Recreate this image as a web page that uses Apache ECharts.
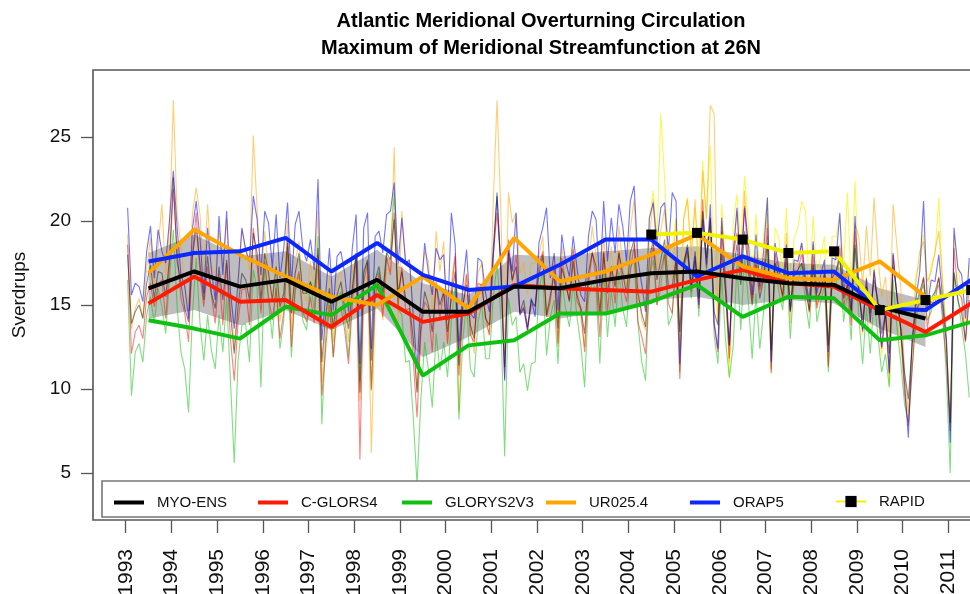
<!DOCTYPE html>
<html><head><meta charset="utf-8">
<script src="https://cdn.jsdelivr.net/npm/echarts/dist/echarts.min.js"></script>
<style>html,body{margin:0;padding:0;background:#fff}#c{width:970px;height:594px}</style>
</head><body><div id="c"></div>
<script>
// ---------------- DATA ----------------
const xTickYears = [1993,1994,1995,1996,1997,1998,1999,2000,2001,2002,2003,2004,2005,2006,2007,2008,2009,2010,2011];
const yTickValues = [5,10,15,20,25];
const seriesNames = ['MYO-ENS','C-GLORS4','GLORYS2V3','UR025.4','ORAP5','RAPID'];

// monthly values, Jan 1993 onward
const myoMonthly = [
18.0,13.9,14.6,15.0,14.2,16.3,17.4,15.4,17.0,16.9,15.5,17.8,
22.6,17.6,16.3,14.8,14.0,17.9,19.6,17.5,15.3,17.9,15.7,14.8,
17.3,15.3,17.7,14.5,12.1,14.9,16.9,16.5,15.3,19.3,18.1,15.3,
18.1,16.9,15.3,17.3,14.9,15.7,18.9,14.5,16.9,18.1,15.7,15.7,
16.4,15.6,18.4,11.6,14.4,16.0,13.6,15.6,16.4,14.8,13.6,16.0,
18.1,9.8,16.9,17.7,11.7,16.5,17.3,15.7,18.1,17.7,20.1,15.7,
17.0,15.4,15.0,13.0,9.8,13.8,15.8,15.0,13.4,16.2,15.0,15.8,
13.4,15.4,17.0,11.4,15.0,16.2,13.8,13.0,15.8,16.2,14.2,13.8,
17.7,21.7,16.9,11.3,18.1,16.5,17.3,14.5,15.3,13.7,15.3,14.9,
16.8,18.0,14.4,15.6,16.8,13.6,17.2,16.4,15.2,17.6,15.6,14.8,
13.3,16.9,18.1,17.3,14.5,18.1,15.7,17.3,16.1,18.1,16.9,15.7,
18.1,18.9,15.7,14.5,13.7,17.7,18.9,16.5,17.7,18.9,16.1,16.1,
17.8,13.4,17.4,18.6,16.2,18.2,15.4,20.6,17.8,20.2,14.6,13.8,
18.2,15.8,12.6,17.0,18.6,16.2,19.4,17.0,15.0,17.4,15.4,16.6,
18.7,12.3,17.5,16.7,15.5,17.9,14.7,16.7,17.1,17.5,16.3,14.7,
17.4,15.4,15.8,17.0,12.6,16.6,17.0,17.8,15.4,16.2,14.6,18.6,
15.7,14.1,16.1,14.5,16.5,15.3,13.3,14.5,12.1,17.3,15.7,13.7,
11.0,9.4,12.6,15.0,15.8,16.6,14.6,15.4,15.8,16.6,15.0,12.6,
8.0,16.9,15.3,14.5,12.9,15.3];
const cglorsMonthly = [
18.6,12.1,13.4,13.8,13.0,15.5,16.3,14.9,16.2,16.5,14.2,17.4,
21.9,18.2,15.4,14.5,12.8,17.9,20.5,16.8,14.9,17.3,15.6,13.9,
16.9,13.8,17.5,13.0,10.5,14.0,15.9,16.0,13.8,19.6,17.4,14.5,
17.6,15.5,14.1,16.0,13.0,14.6,18.7,12.5,16.1,17.0,14.6,14.0,
15.5,13.9,18.0,9.6,12.4,15.0,11.9,14.5,14.9,13.5,11.5,15.0,
17.9,5.8,16.4,17.5,10.0,15.3,16.9,14.3,17.9,16.8,20.5,14.9,
17.3,14.7,14.8,11.7,8.3,13.3,15.2,14.8,12.2,16.4,14.2,15.8,
12.7,15.8,17.9,10.8,14.7,16.8,13.2,12.8,16.3,16.2,14.3,13.2,
18.0,20.5,17.5,10.6,18.9,16.4,18.0,14.5,14.9,13.5,15.0,15.0,
17.3,18.2,14.3,15.2,17.4,12.7,17.8,16.2,15.3,18.3,15.2,14.8,
12.2,16.1,18.2,16.6,13.1,18.2,14.6,17.2,15.1,18.2,16.1,15.2,
17.0,18.6,14.0,13.1,12.1,16.5,18.6,15.0,17.1,18.0,15.1,14.5,
17.8,10.6,17.3,18.2,15.8,17.7,14.8,21.3,17.2,20.2,13.8,12.2,
19.4,15.8,11.8,17.9,19.3,16.9,20.9,17.3,15.4,17.8,15.9,16.8,
19.6,11.0,18.1,16.5,15.6,18.0,14.6,17.1,17.0,18.1,16.0,14.6,
17.9,14.8,15.9,16.8,11.3,16.9,16.8,18.4,14.8,16.4,13.8,19.4,
16.0,13.4,16.5,13.9,17.0,14.9,12.4,14.5,10.9,18.0,15.4,13.5,
9.7,7.8,11.1,14.7,15.1,16.7,13.6,15.2,15.1,16.7,14.1,11.7,
7.5,18.4,15.8,15.4,12.8,16.4];
const glorysMonthly = [
16.5,9.6,12.2,12.7,11.6,14.4,15.5,13.9,16.0,14.9,13.3,16.6,
19.5,14.9,12.2,11.2,8.6,14.4,17.8,13.9,11.7,14.4,12.3,11.2,
14.4,12.2,15.5,10.5,5.6,11.7,13.8,13.9,11.6,17.1,16.0,10.1,
17.4,15.2,13.0,16.3,12.4,14.1,18.5,11.9,15.8,16.8,14.1,13.5,
16.4,14.7,19.1,7.9,13.0,15.8,11.9,15.3,15.8,14.2,11.9,15.8,
18.1,10.4,17.1,17.6,9.9,16.5,17.0,15.4,18.1,18.2,21.7,14.8,
14.4,11.6,11.7,8.3,4.3,9.4,12.8,11.1,8.9,13.3,11.1,12.8,
10.7,14.0,16.2,8.2,12.9,15.1,11.2,10.7,14.0,15.1,11.8,11.8,
15.4,17.5,14.3,6.0,15.4,13.8,14.3,11.0,11.5,9.9,11.5,11.6,
15.9,17.0,12.0,14.3,15.3,11.5,16.5,14.8,13.7,16.4,14.3,12.6,
10.1,15.4,16.4,15.9,11.5,17.0,13.1,15.9,13.7,17.0,14.8,13.7,
17.2,17.7,13.9,11.6,10.5,16.6,17.7,15.0,16.0,18.3,13.8,14.4,
17.6,11.0,17.1,18.1,15.4,17.6,14.3,20.5,17.0,20.0,13.2,11.5,
16.8,12.9,10.7,12.5,17.4,13.5,18.0,15.2,11.8,15.7,12.4,14.6,
19.1,11.2,17.5,15.8,14.7,17.4,13.0,16.4,16.3,17.5,15.2,13.6,
17.4,14.0,15.2,16.2,11.0,16.3,16.2,17.9,14.0,15.7,12.9,18.4,
14.3,11.5,14.9,12.1,15.4,13.2,11.0,12.1,10.1,16.5,13.7,11.6,
9.1,8.0,11.3,14.0,15.7,16.2,14.1,14.6,15.7,16.2,14.6,10.7,
5.0,17.0,15.4,13.7,12.1,9.5];
const urMonthly = [
19.2,13.6,14.8,15.4,14.2,17.2,19.0,16.0,18.4,21.0,16.6,19.6,
27.2,20.4,18.6,16.2,15.0,20.4,22.0,20.4,16.8,21.0,17.4,16.8,
19.5,17.1,20.1,15.9,12.3,15.9,19.5,18.3,17.1,25.1,20.7,16.5,
19.4,17.0,15.2,17.6,14.0,15.8,20.0,13.4,17.6,18.8,15.8,15.2,
17.6,15.8,20.6,10.4,14.0,17.0,12.8,16.4,17.0,15.2,12.8,17.0,
17.7,9.3,15.3,17.1,6.2,15.3,15.9,14.1,17.1,17.1,24.4,13.5,
20.6,17.6,17.6,14.0,9.8,15.8,18.2,17.6,14.6,19.4,17.0,18.8,
12.7,16.3,18.1,8.6,15.7,16.9,13.9,12.1,16.9,17.5,13.9,13.3,
21.1,27.2,20.5,12.1,21.7,19.9,20.5,16.9,17.5,15.7,17.5,17.5,
17.9,19.1,14.3,15.5,17.9,12.5,18.5,16.7,15.5,18.5,16.1,14.3,
12.5,17.3,19.7,17.9,14.3,19.1,16.1,18.5,16.1,19.7,17.3,16.1,
19.5,21.3,16.5,14.1,13.5,18.9,21.3,17.1,19.5,20.7,17.1,16.5,
20.1,12.8,20.1,21.3,17.7,21.3,16.5,23.0,20.1,26.9,26.4,14.0,
20.0,15.8,11.6,17.6,20.6,16.4,21.8,17.6,15.2,18.2,15.8,17.0,
20.5,10.9,18.1,17.5,15.1,19.3,13.9,17.5,17.5,18.7,16.3,14.5,
18.6,15.0,16.2,17.4,11.4,16.8,18.0,18.6,15.6,16.2,14.4,19.8,
19.1,16.1,19.7,16.7,21.4,17.9,15.5,16.7,13.1,21.0,18.5,16.1,
11.0,8.6,12.8,16.4,18.2,18.8,16.4,17.0,18.2,19.4,16.4,13.4];
const orapMonthly = [
20.8,15.6,16.3,16.1,15.2,18.2,19.7,16.6,19.5,18.2,17.5,20.1,
23.0,19.6,16.8,16.1,14.2,19.5,21.2,19.0,15.7,19.6,17.1,15.3,
20.3,16.8,20.6,15.8,13.6,16.4,19.6,18.3,17.6,21.5,20.1,16.8,
20.6,19.9,17.2,20.4,16.6,18.4,21.1,16.2,19.8,20.6,18.4,17.6,
18.9,17.1,22.5,12.9,15.6,18.4,14.7,17.9,18.2,16.9,14.6,18.4,
20.4,11.5,19.6,20.5,12.4,19.1,19.4,18.1,20.4,20.6,22.3,17.4,
20.2,17.5,17.7,14.4,11.2,15.5,18.7,16.9,15.6,18.4,17.7,18.0,
14.1,20.5,18.6,12.3,16.1,18.3,14.5,14.2,17.8,17.6,15.7,14.6,
18.4,21.5,17.4,10.5,18.3,17.0,20.5,14.4,14.8,13.5,15.4,14.3,
18.7,19.6,20.8,16.6,18.1,14.7,19.2,17.6,16.7,19.1,17.2,15.6,
15.2,19.1,20.6,20.1,16.1,21.2,17.6,20.2,18.1,21.0,19.7,17.6,
21.2,22.1,17.7,16.2,14.6,20.2,21.1,18.7,20.8,21.1,18.2,21.7,
21.2,11.5,17.5,18.4,16.0,17.9,15.0,20.1,17.4,21.0,14.0,12.4,
20.2,16.6,12.6,18.1,20.8,17.1,20.8,18.7,15.6,19.2,16.1,18.2,
21.4,11.6,18.7,17.1,16.2,18.6,14.6,17.7,17.6,18.7,16.6,15.2,
18.8,15.7,16.8,17.7,12.2,17.8,17.7,20.5,15.7,17.3,14.7,20.3,
16.1,13.5,16.6,14.0,17.1,15.0,12.5,14.6,11.0,18.1,15.5,13.6,
10.4,7.1,13.0,15.4,17.0,21.2,14.9,16.5,16.4,18.0,15.4,13.0,
6.8,19.6,17.2,16.8,14.2,17.8];
// RAPID monthly, April 2004 onward
const rapidMonthly = [
15.9,14.7,20.1,21.8,18.9,26.4,22.5,17.7,18.3,
20.2,12.5,20.2,21.4,18.4,20.8,17.2,23.6,20.2,24.5,16.0,14.2,
21.0,17.4,10.6,19.8,21.6,18.6,22.7,19.8,16.2,20.4,16.8,19.2,
21.4,12.4,19.6,19.0,16.6,20.8,15.4,19.0,19.6,21.2,20.6,16.0,
20.3,16.7,17.9,19.1,12.5,19.1,19.1,20.3,17.3,21.7,16.1,22.4,
16.2,13.2,16.8,13.8,17.4,15.0,12.0,14.4,10.2,18.0,15.6,12.6,
10.2,8.4,12.6,16.8,17.4,19.2,15.6,17.4,18.0,21.4,16.2,13.2,
8.0,19.2,17.4,15.6,13.8,17.4];

// annual means (mid-year), from 1993.5
const myoAnnual    = [16.0,17.0,16.1,16.5,15.2,16.5,14.6,14.6,16.1,16.0,16.5,16.9,17.0,16.6,16.3,16.2,14.9,14.2];
const cglorsAnnual = [15.1,16.7,15.2,15.3,13.7,15.6,14.0,14.5,16.2,16.0,15.9,15.8,16.5,17.1,16.3,16.1,14.7,13.4,15.1];
const glorysAnnual = [14.1,13.6,13.0,14.9,14.4,16.2,10.8,12.6,12.9,14.5,14.5,15.2,16.2,14.3,15.5,15.4,12.9,13.2,14.0];
const urAnnual     = [16.9,19.5,18.0,16.7,15.5,15.0,16.7,14.8,19.0,16.4,17.0,18.0,19.2,17.3,16.6,16.5,17.6,15.5];
const orapAnnual   = [17.6,18.1,18.2,19.0,17.0,18.7,16.8,15.9,16.1,17.4,18.9,18.9,16.7,17.9,16.9,17.0,14.8,14.7,16.5];
// RAPID annual from 2004.5
const rapidAnnual  = [19.2,19.3,18.9,18.1,18.2,14.7,15.3,15.9];
// ensemble spread band, from 1993.5
const bandLow  = [14.2,14.7,13.8,14.7,13.5,14.8,11.9,13.1,14.6,14.2,14.6,15.3,15.5,15.0,15.3,15.1,13.6,12.5];
const bandHigh = [18.1,19.2,17.9,18.2,16.7,18.3,16.3,15.6,18.0,17.9,18.2,18.4,18.5,18.0,17.5,17.4,16.0,15.3];

// ---------------- CHART ----------------
const FONT = '"Liberation Sans", Arial, Helvetica, sans-serif';
const toMonthly = (arr, y0, m0) => arr.map((v, i) => [y0 + (m0 + i + 0.5) / 12, v]);
const toAnnual = (arr, y0) => arr.map((v, i) => [y0 + i + 0.5, v]);

const thin = (name, data, color) => ({
  type: 'line', name, data, symbol: 'none', silent: true, z: 3,
  lineStyle: { color, width: 1.1 }, itemStyle: { color }
});
const thick = (name, data, color, extra) => Object.assign({
  type: 'line', name, data, symbol: 'none', silent: true, z: 5,
  lineStyle: { color, width: 4 }, itemStyle: { color }
}, extra || {});

const legendLefts = [114, 258, 402, 546, 690, 835];

const chart = echarts.init(document.getElementById('c'), null, { renderer: 'canvas' });
chart.setOption({
  animation: false,
  backgroundColor: '#fff',
  textStyle: { fontFamily: FONT },
  grid: { left: 93, top: 70, right: -19, bottom: 74, show: true, borderColor: '#555', borderWidth: 1.6, backgroundColor: 'transparent', containLabel: false, outerBoundsMode: 'none' },
  xAxis: {
    type: 'value', min: 1992.284, max: 2011.89,
    axisLine: { show: false },
    splitLine: { show: false },
    axisTick: { show: true, customValues: xTickYears, length: 13, lineStyle: { color: '#555', width: 1.3 } },
    axisLabel: { customValues: xTickYears, rotate: 90, margin: 29, fontSize: 21, color: '#111', fontFamily: FONT, formatter: v => String(v) }
  },
  yAxis: {
    type: 'value', min: 2.2, max: 29,
    name: 'Sverdrups', nameLocation: 'middle', nameGap: 64, nameRotate: 90,
    nameTextStyle: { fontSize: 19, color: '#111', fontFamily: FONT },
    axisLine: { show: false },
    splitLine: { show: false },
    axisTick: { show: true, customValues: yTickValues, length: 12, lineStyle: { color: '#555', width: 1.3 } },
    axisLabel: { customValues: yTickValues, margin: 22, fontSize: 19, color: '#111', fontFamily: FONT }
  },
  legend: seriesNames.map((n, i) => Object.assign({
    data: [n], left: legendLefts[i], top: 494, orient: 'horizontal',
    itemWidth: 30, itemHeight: 14, padding: 0, selectedMode: false, z: 20,
    textStyle: { fontSize: 15, color: '#111', fontFamily: FONT, padding: [0, 0, 0, 8] }
  }, n === 'RAPID' ? {} : { icon: 'rect', itemHeight: 4, top: 495 })),
  graphic: [
    { type: 'text', x: 541, y: 21, z: 30, style: { text: 'Atlantic Meridional Overturning Circulation', font: 'bold 20px ' + FONT, fill: '#000', textAlign: 'center', textVerticalAlign: 'middle' } },
    { type: 'text', x: 541, y: 48, z: 30, style: { text: 'Maximum of Meridional Streamfunction at 26N', font: 'bold 20px ' + FONT, fill: '#000', textAlign: 'center', textVerticalAlign: 'middle' } },
    { type: 'rect', z: 15, shape: { x: 102, y: 481, width: 920, height: 36 }, style: { fill: '#fff', stroke: '#777', lineWidth: 1.6 } }
  ],
  series: [
    {
      type: 'custom', name: 'spread', silent: true, z: 2,
      data: bandLow.map((l, i) => [1993 + i + 0.5, l, bandHigh[i]]),
      encode: { x: 0, y: [1, 2] },
      renderItem: (params, api) => {
        if (params.dataIndex !== 0) return null;
        const up = bandHigh.map((h, i) => api.coord([1993 + i + 0.5, h]));
        const lo = bandLow.map((l, i) => api.coord([1993 + i + 0.5, l])).reverse();
        return { type: 'polygon', shape: { points: up.concat(lo) }, style: { fill: '#bebebe' } };
      }
    },
    thin('RAPID monthly', toMonthly(rapidMonthly, 2004, 3), 'rgba(245,245,0,0.65)'),
    thin('UR025.4 monthly', toMonthly(urMonthly, 1993, 0), 'rgba(255,165,0,0.55)'),
    thin('GLORYS2V3 monthly', toMonthly(glorysMonthly, 1993, 0), 'rgba(0,190,0,0.5)'),
    thin('C-GLORS4 monthly', toMonthly(cglorsMonthly, 1993, 0), 'rgba(255,0,0,0.5)'),
    thin('ORAP5 monthly', toMonthly(orapMonthly, 1993, 0), 'rgba(0,0,255,0.55)'),
    thin('MYO-ENS monthly', toMonthly(myoMonthly, 1993, 0), 'rgba(0,0,0,0.45)'),
    thick('GLORYS2V3', toAnnual(glorysAnnual, 1993), '#10c010'),
    thick('C-GLORS4', toAnnual(cglorsAnnual, 1993), '#ff1a00'),
    thick('UR025.4', toAnnual(urAnnual, 1993), '#ffa500'),
    thick('ORAP5', toAnnual(orapAnnual, 1993), '#0a28ff'),
    thick('MYO-ENS', toAnnual(myoAnnual, 1993), '#000000'),
    thick('RAPID', toAnnual(rapidAnnual, 2004), '#f2f200', { symbol: 'rect', symbolSize: 10, itemStyle: { color: '#000' }, z: 6 })
  ]
});
</script>
</body></html>
